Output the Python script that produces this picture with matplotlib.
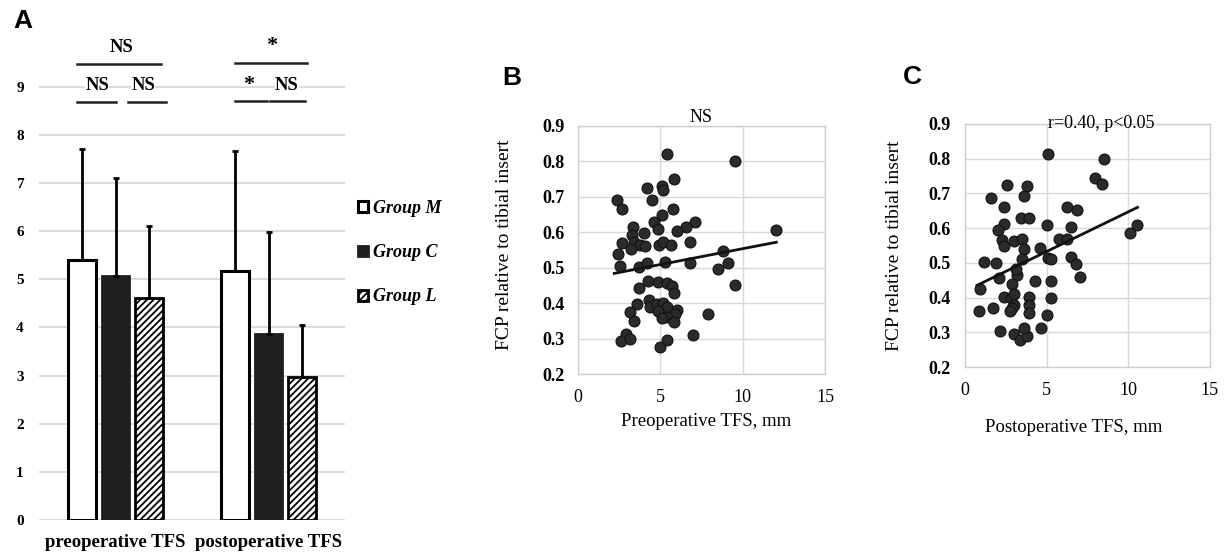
import numpy as np
import matplotlib
matplotlib.use("Agg")
import matplotlib.pyplot as plt

plt.rcParams['font.family'] = ['Liberation Serif', 'DejaVu Serif']

# ---------------- data ----------------
categories = ["preoperative TFS", "postoperative TFS"]
groups = ["Group M", "Group C", "Group L"]
mean_M = [5.39, 5.17]
mean_C = [5.07, 3.86]
mean_L = [4.61, 2.97]
sd_M = [2.31, 2.49]
sd_C = [2.03, 2.12]
sd_L = [1.50, 1.09]

# significance brackets: (x_start, x_end, y, label, label_x, label_y)
sig_lines = [
    (-0.25, 0.30, 9.48, "NS", 0.04, 9.82),
    (-0.25, 0.00, 8.69, "NS", -0.12, 9.02),
    (0.08, 0.33, 8.69, "NS", 0.18, 9.02),
    (0.78, 1.25, 9.50, "*", 1.02, 9.84),
    (0.78, 0.99, 8.71, "*", 0.87, 9.03),
    (1.01, 1.24, 8.71, "NS", 1.12, 9.02),
]

pre_tfs = [5.39, 9.53, 5.86, 4.16, 5.08, 5.14, 2.38, 2.69, 4.47, 5.76, 5.08, 4.63, 4.84,
           7.09, 6.58, 6.00, 3.34, 3.30, 4.00, 3.38, 3.75, 3.24, 2.67, 2.42, 4.05, 4.94,
           5.19, 5.63, 6.82, 8.81, 12.0, 2.52, 3.71, 4.20, 5.29, 6.82, 9.14, 8.50, 9.53,
           3.69, 4.26, 4.88, 5.39, 5.70, 5.84, 3.58, 4.32, 4.40, 4.77, 5.14, 5.39, 6.00,
           5.90, 5.39, 5.80, 4.88, 5.08, 3.18, 3.38, 7.91, 2.89, 2.62, 3.14, 4.98, 5.43, 6.99]
pre_fcp = [0.82, 0.80, 0.75, 0.725, 0.73, 0.72, 0.69, 0.665, 0.69, 0.665, 0.65, 0.63, 0.61,
           0.63, 0.615, 0.605, 0.615, 0.593, 0.597, 0.573, 0.564, 0.552, 0.570, 0.538, 0.561, 0.564,
           0.573, 0.564, 0.572, 0.548, 0.606, 0.504, 0.502, 0.512, 0.517, 0.514, 0.514, 0.495, 0.45,
           0.444, 0.463, 0.46, 0.458, 0.449, 0.428, 0.398, 0.408, 0.389, 0.398, 0.40, 0.389, 0.382,
           0.37, 0.36, 0.348, 0.379, 0.358, 0.376, 0.349, 0.37, 0.314, 0.292, 0.298, 0.276, 0.295, 0.311]
pre_fit_x = [2.2, 12.05]
pre_fit_y = [0.484, 0.572]

post_tfs = [5.08, 8.50, 7.95, 8.40, 2.60, 3.82, 3.62, 1.59, 2.36, 6.26, 6.87, 3.46, 3.92,
            2.36, 2.03, 5.00, 6.50, 10.12, 10.53, 2.24, 2.40, 3.00, 3.52, 4.57, 5.75, 6.22,
            3.62, 3.52, 5.08, 5.29, 6.50, 6.77, 7.03, 1.18, 1.89, 2.09, 3.21, 2.91, 3.11,
            4.27, 5.29, 0.94, 2.40, 2.80, 3.00, 3.00, 2.85, 3.92, 3.92, 3.92, 5.29, 0.87,
            1.69, 2.77, 5.04, 2.16, 3.00, 3.37, 3.82, 4.63, 3.62]
post_fcp = [0.813, 0.80, 0.745, 0.726, 0.723, 0.721, 0.693, 0.687, 0.662, 0.662, 0.651, 0.628, 0.628,
            0.613, 0.595, 0.609, 0.604, 0.585, 0.609, 0.565, 0.548, 0.562, 0.568, 0.543, 0.568, 0.568,
            0.539, 0.512, 0.515, 0.51, 0.518, 0.496, 0.459, 0.503, 0.501, 0.456, 0.464, 0.44, 0.482,
            0.447, 0.449, 0.426, 0.403, 0.398, 0.409, 0.379, 0.37, 0.403, 0.379, 0.356, 0.398, 0.36,
            0.37, 0.362, 0.351, 0.304, 0.295, 0.278, 0.29, 0.313, 0.312]
post_fit_x = [0.73, 10.57]
post_fit_y = [0.435, 0.66]

# ---------------- figure ----------------
fig = plt.figure(figsize=(12.28, 5.57), dpi=100)

# Panel A
axA = fig.add_axes([0.0318, 0.0664, 0.2492, 0.8645])
x = np.arange(len(categories))
w = 0.18
step = 0.22
grid_c = '#d4d4d4'
plt.rcParams['hatch.linewidth'] = 1.3
bM = axA.bar(x - step, mean_M, w, color='white', edgecolor='black', linewidth=2.2, zorder=3, label=groups[0])
bC = axA.bar(x, mean_C, w, color='#1e1e1e', edgecolor='#1e1e1e', linewidth=2, zorder=3, label=groups[1])
bL = axA.bar(x + step, mean_L, w, color='white', edgecolor='black', linewidth=2, hatch='/////', zorder=3, label=groups[2])
for off, m, s in [(-step, mean_M, sd_M), (0, mean_C, sd_C), (step, mean_L, sd_L)]:
    axA.errorbar(x + off, m, yerr=[np.zeros(len(s)), s], fmt='none', ecolor='black',
                 elinewidth=2, capsize=2.5, capthick=2, zorder=4)
axA.set_xlim(-0.5, 1.5)
axA.set_ylim(0, 10)
axA.set_yticks(range(10))
axA.set_yticklabels([str(i) for i in range(10)], fontsize=11, fontweight='bold')
axA.set_xticks(x)
axA.set_xticklabels(categories, fontsize=13.5, fontweight='bold')
axA.tick_params(axis='both', length=0)
axA.tick_params(axis='y', pad=11)
axA.tick_params(axis='x', pad=10)
for sp in axA.spines.values():
    sp.set_visible(False)
axA.yaxis.grid(True, color=grid_c, linewidth=1.2, zorder=0)
axA.set_axisbelow(True)
for x0, x1, yy, lab, lx, ly in sig_lines:
    axA.plot([x0, x1], [yy, yy], color='#222222', linewidth=1.8, clip_on=False, zorder=5)
    if lab == "*":
        axA.text(lx, ly, lab, ha='center', va='center', fontsize=16,
                 fontweight='bold', clip_on=False, zorder=6)
    else:
        axA.text(lx, ly, lab, ha='center', va='center', fontsize=13.5,
                 fontweight='bold', clip_on=False, zorder=6,
                 bbox=dict(facecolor='white', edgecolor='none', pad=0.2))

fig.legend(handles=[bM, bC, bL], labels=groups, loc='center left',
           bbox_to_anchor=(0.284, 0.546), frameon=False,
           prop={'family': ['Liberation Serif'], 'style': 'italic', 'weight': 'bold', 'size': 13},
           handlelength=0.55, handleheight=0.55, handletextpad=0.3, labelspacing=1.5, borderpad=0)


def scatter_panel(rect, xs, ys, fx, fy, xlabel, ylab_coords, xlab_coords):
    ax = fig.add_axes(rect)
    ax.scatter(xs, ys, s=62, color='#2b2b2b', edgecolor='#111111', linewidth=0.8, zorder=3)
    ax.plot(fx, fy, color='#111111', linewidth=2, zorder=4)
    ax.set_xlim(0, 15)
    ax.set_ylim(0.2, 0.9)
    ax.set_xticks([0, 5, 10, 15])
    ax.set_yticks([0.2, 0.3, 0.4, 0.5, 0.6, 0.7, 0.8, 0.9])
    ax.set_yticklabels(['0.2', '0.3', '0.4', '0.5', '0.6', '0.7', '0.8', '0.9'],
                       fontsize=13, fontweight='bold')
    ax.set_xticklabels(['0', '5', '10', '15'], fontsize=13)
    ax.tick_params(axis='both', length=0)
    ax.tick_params(axis='y', pad=10)
    ax.tick_params(axis='x', pad=11)
    ax.grid(True, color='#d9d9d9', linewidth=1, zorder=0)
    ax.set_axisbelow(True)
    for sp in ax.spines.values():
        sp.set_color('#cfcfcf')
        sp.set_linewidth(1)
    ax.set_ylabel("FCP relative to tibial insert", fontsize=14)
    ax.yaxis.set_label_coords(*ylab_coords)
    ax.set_xlabel(xlabel, fontsize=13.5)
    ax.xaxis.set_label_coords(*xlab_coords)
    return ax


axB = scatter_panel([0.4707, 0.3285, 0.2011, 0.4453], pre_tfs, pre_fcp, pre_fit_x, pre_fit_y,
                    "Preoperative TFS, mm", (-0.262, 0.52), (0.52, -0.158))
axB.set_title("NS", fontsize=13, pad=3)

axC = scatter_panel([0.7858, 0.3411, 0.1995, 0.4363], post_tfs, post_fcp, post_fit_x, post_fit_y,
                    "Postoperative TFS, mm", (-0.252, 0.5), (0.445, -0.215))
axC.text(0.555, 1.0, "r=0.40, p<0.05", transform=axC.transAxes, ha='center', va='center',
         fontsize=13, zorder=6)

for lab, xx, yy in [("A", 0.019, 0.962), ("B", 0.417, 0.860), ("C", 0.743, 0.862)]:
    fig.text(xx, yy, lab, fontsize=19, fontweight='bold', family=['Liberation Sans', 'DejaVu Sans'],
             ha='center', va='center')

fig.savefig("out.png", dpi=100)
